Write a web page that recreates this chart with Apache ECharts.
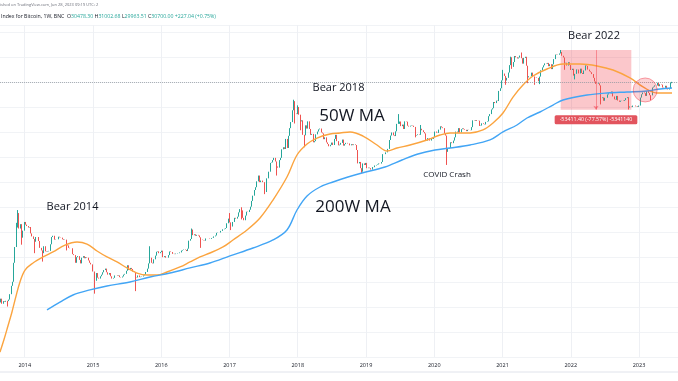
<!DOCTYPE html>
<html><head><meta charset="utf-8">
<script src="https://cdn.jsdelivr.net/npm/echarts/dist/echarts.min.js"></script>
<style>html,body{margin:0;padding:0;background:#fff}#c{width:678px;height:381px}</style>
</head><body><div id="c"></div>
<script>
// ---------- data ----------
const startWeek = '2013-08-19';
const firstOpen = 108;
const weeklyClose = [
// 2013 (from Aug 19)
122,134,118,126,124,127,126,131,150,185,205,330,490,800,960,780,870,620,740,920,
// 2014
860,830,800,810,690,640,600,560,630,630,570,480,450,420,500,440,435,440,445,525,630,650,590,595,595,635,
625,620,595,585,590,520,510,480,475,475,410,400,330,380,390,355,325,375,390,370,380,375,350,330,317,265,
// 2015
265,210,255,227,222,235,245,260,275,285,260,245,255,235,222,226,240,240,237,240,230,228,234,245,250,270,
310,275,290,282,265,262,230,228,240,230,232,234,240,246,262,285,325,375,330,325,360,395,435,440,420,432,
// 2016
447,380,390,375,375,400,438,432,413,414,410,416,420,420,428,448,455,460,455,443,470,575,600,760,660,675,
650,665,655,625,590,585,580,575,608,608,608,602,615,617,640,655,700,705,705,735,735,765,775,790,890,1000,
// 2017
910,820,920,920,1020,1000,1050,1170,1270,1230,1020,960,1080,1190,1180,1250,1350,1560,1780,2050,2200,2550,2950,2500,2600,2500,
2500,1950,2750,2750,3250,4050,4100,4350,4600,4200,3700,3600,4350,4600,5700,6000,5750,7400,5900,8000,9700,11300,15200,19100,14000,13800,
// 2018
16500,13600,11500,11800,8200,8100,10400,9600,11500,9500,8200,8400,6800,7000,8300,8900,9400,9600,8700,8500,7350,7700,6780,6500,6150,6380,
6750,6350,7400,8200,7000,6300,6400,6700,7280,6250,6500,6700,6600,6600,6300,6480,6330,6450,6350,5600,4000,4150,3550,3250,4000,3850,4050,
// 2019
3550,3600,3550,3430,3650,3640,3800,3850,3900,4000,3980,4150,5050,5050,5280,5280,5760,7200,8050,8700,8100,7950,8950,10800,10800,11450,
10200,10600,9500,11500,11400,10300,10100,10300,10400,10300,10000,8050,8150,8300,8200,9550,9200,8800,8500,7100,7550,7500,7100,7500,7400,7750,
// 2020
8900,8650,8600,9350,10150,9900,9700,8550,8050,5350,5820,5900,6800,6650,7100,7700,8900,8700,9700,8700,9450,9650,9450,9300,9000,9300,
9250,9200,9950,11800,11700,11900,11650,11700,10250,10350,10950,10750,10650,11350,11500,13100,13800,15500,16000,18700,18200,19350,19150,24700,26400,32200,
// 2021
38200,36000,32100,34300,39200,47200,57500,45200,51000,59300,57500,55800,57100,60000,56200,49000,56600,58200,46500,34700,35700,35800,39100,35500,34700,34600,
34200,31500,35400,41500,44600,47000,49300,48800,49900,46000,48300,42700,48200,54900,61500,60900,61300,63300,65500,59700,57200,49400,50100,46700,50800,47300,
// 2022
41800,43100,36300,37900,42400,42200,38300,43200,38800,37800,41300,46900,46400,42200,40400,39500,37700,34300,31300,29500,29400,29900,28400,20600,21000,19300,
20800,20800,22600,23300,23200,24300,21500,20000,19800,21800,19400,18800,19300,19400,19200,19600,20600,21100,16300,16700,16450,17100,17100,16750,16850,16550,
// 2023
17100,20900,22700,23750,23300,21800,24600,23500,22200,22100,26900,27500,28400,28300,30300,27800,29200,28900,26900,26700,28100,25850,25550,26300,30478.30,30700.00
];
// weeks whose wicks reach beyond the body
const wickWeeks = ['2013-09-30','2013-11-18','2013-11-25','2013-12-02','2013-12-16','2014-02-24','2014-04-07','2014-08-11',
 '2015-01-12','2015-08-17','2015-11-02','2016-06-13','2016-08-01','2017-01-02','2017-01-09','2017-03-06','2017-07-10','2017-09-11',
 '2017-12-11','2017-12-18','2018-01-01','2018-01-15','2018-02-05','2018-12-10','2019-06-24','2019-09-23','2019-10-21','2020-03-09',
 '2021-01-04','2021-01-18','2021-02-15','2021-02-22','2021-04-12','2021-05-17','2021-06-21','2021-07-19','2021-11-08','2021-11-29',
 '2022-01-24','2022-06-13','2022-11-07','2023-03-06','2023-06-26'];
const wickLow  = [110,null,null,null,520,420,340,450, 152,162,null,null,480,null,750,980,1850,2950, null,10900,null,9200,6000,3150,null,7700,null,3850,
 null,28800,null,43000,null,30000,28800,29300,null,42000, 33000,17600,15480,19600,29963.51];
const wickHigh = [null,900,1240,1150,null,null,null,null, null,null,500,780,null,1150,null,1330,null,null, 19800,null,17200,null,null,null,13800,null,10500,null,
 41900,null,58300,null,64800,null,null,null,69000,null, null,null,null,null,31002.68];

const yearTicks = [2014,2015,2016,2017,2018,2019,2020,2021,2022,2023];

const ma50Time = [2013.637,2013.696,2013.755,2013.813,2013.872,2013.930,2014.004,2014.121,2014.267,2014.414,2014.590,2014.766,2014.912,
 2015.059,2015.205,2015.352,2015.498,2015.645,2015.791,2015.938,2016.084,2016.275,2016.421,2016.568,2016.714,2016.905,2017.051,2017.256,
 2017.447,2017.637,2017.842,2017.989,2018.136,2018.282,2018.473,2018.619,2018.766,2018.956,2019.161,2019.308,2019.454,2019.645,2019.894,
 2020.085,2020.231,2020.524,2020.714,2020.861,2021.007,2021.154,2021.300,2021.447,2021.652,2021.886,2022.136,2022.385,2022.619,2022.868,
 2023.059,2023.264,2023.484];
const ma50Value = [35,48,68,96,143,204,275,328,382,433,515,556,528,444,382,337,290,255,243,243,262,297,337,382,422,491,585,752,1016,1596,
 2845,4943,6516,7568,8375,8590,8810,7960,6353,5470,5890,6353,7210,8166,8590,8590,9268,11040,14190,21180,28650,35930,42850,48530,48530,
 46240,41780,34200,27290,23440,23440];

const ma200Time = [2014.326,2014.516,2014.707,2014.956,2015.205,2015.542,2015.835,2016.128,2016.421,2016.714,2017.007,2017.344,2017.637,
 2017.842,2017.989,2018.136,2018.326,2018.517,2018.736,2018.941,2019.278,2019.527,2019.762,2020.011,2020.231,2020.524,2020.817,2021.007,
 2021.212,2021.359,2021.549,2021.740,2021.886,2022.238,2022.531,2022.824,2023.117,2023.308,2023.484];
const ma200Value = [101,123,147,167,184,204,231,255,290,328,392,478,585,752,1242,1766,2213,2510,2845,3148,3656,4357,5070,5600,5890,6353,
 7210,8810,10500,12510,14550,17340,19680,22280,23440,24040,24660,25940,26600];

const bearStart = '2021-11-08', bearEnd = '2022-11-21', bearHigh = 68850, bearLow = 15440;
const bearLabel = '-53411.40 (-77.57%) -5341140';
const crossDate = '2023-02-03', crossPrice = 25300;
const lastPrice = 30700;

// ---------- helpers ----------
const DAY = 864e5;
function decYear(ms){ const d=new Date(ms); const y=d.getUTCFullYear(); const a=Date.UTC(y,0,1), b=Date.UTC(y+1,0,1); return y+(ms-a)/(b-a); }
function dateYear(s){ return decYear(Date.parse(s+'T00:00:00Z')); }

const wickMap = {};
wickWeeks.forEach((d,i)=>{ wickMap[d]=[wickLow[i], wickHigh[i]]; });
const t0 = Date.parse(startWeek+'T00:00:00Z');
let prev = firstOpen;
const candles = weeklyClose.map((c,i)=>{
  const ms = t0 + i*7*DAY;
  const key = new Date(ms).toISOString().slice(0,10);
  const o = prev; prev = c;
  let lo = Math.min(o,c), hi = Math.max(o,c);
  const w = wickMap[key];
  if (w){ if (w[0]!=null) lo = Math.min(lo,w[0]); if (w[1]!=null) hi = Math.max(hi,w[1]); }
  return [decYear(ms), o, c, lo, hi];
});
const ma50 = ma50Time.map((t,i)=>[t, ma50Value[i]]);
const ma200 = ma200Time.map((t,i)=>[t, ma200Value[i]]);

// layout mapping of the reference
const xMin = 2013.6374, xMax = 2023.5714;
const yMin = Math.pow(10,1.4911), yMax = Math.pow(10,5.1116);

const bs = dateYear(bearStart), be = dateYear(bearEnd), bm = (bs+be)/2;
const FONT = '"Open Sans", "DejaVu Sans", sans-serif';
const TXT = {fill:'#131722', fontFamily:FONT, align:'center', verticalAlign:'middle', fontWeight:500};

const chart = echarts.init(document.getElementById('c'), null, {renderer:'canvas'});
chart.setOption({
  animation:false,
  backgroundColor:'#ffffff',
  grid:{left:0, right:0, top:25, bottom:24},
  xAxis:{type:'value', min:xMin, max:xMax,
    axisLine:{show:false},
    axisTick:{show:false, customValues:yearTicks},
    axisLabel:{customValues:yearTicks, formatter:v=>String(Math.round(v)), fontSize:5.5, color:'#131722', margin:5, fontFamily:FONT},
    splitLine:{show:true, lineStyle:{color:'#eef0f4', width:1}}},
  yAxis:[
    {type:'log', logBase:10, min:yMin, max:yMax, position:'right',
     axisLine:{show:false}, axisTick:{show:false}, axisLabel:{show:false}, splitLine:{show:false}},
    {type:'value', min:0, max:332, interval:25, position:'left',
     axisLine:{show:false}, axisTick:{show:false}, axisLabel:{show:false},
     splitLine:{show:true, lineStyle:{color:'#f1f3f6', width:1}}}
  ],
  series:[
    {type:'candlestick', data:candles, yAxisIndex:0,
     dimensions:['t','open','close','low','high'], encode:{x:0, y:[1,2,3,4]},
     barWidth:1.3,
     itemStyle:{color:'#26a69a', color0:'#ef5350', borderColor:'#26a69a', borderColor0:'#ef5350', borderWidth:1},
     markArea:{silent:true, itemStyle:{color:'rgba(242,54,69,0.28)'},
       data:[[{coord:[bs,bearHigh]},{coord:[be,bearLow]}]]},
     markLine:{silent:true, symbol:['none','none'], label:{show:false},
       data:[
         {yAxis:lastPrice, lineStyle:{color:'#9aa0a8', type:'dotted', width:1, opacity:0.8}},
         [{coord:[bm,bearHigh], symbol:'none', lineStyle:{color:'rgba(242,54,69,0.55)', width:0.8, type:'solid'}},
          {coord:[bm,bearLow], symbol:'arrow', symbolSize:4}]
       ]},
     markPoint:{silent:true,
       data:[
         {coord:[dateYear(crossDate), crossPrice], symbol:'circle', symbolSize:24,
          itemStyle:{color:'rgba(242,54,69,0.22)', borderColor:'rgba(242,54,69,0.45)', borderWidth:1}, label:{show:false}},
         {coord:[bm,bearLow], symbol:'circle', symbolSize:1, itemStyle:{color:'rgba(0,0,0,0)'},
          label:{show:true, position:'bottom', distance:5, formatter:bearLabel, color:'#ffffff', fontSize:5.3,
                 backgroundColor:'#e2545e', padding:[2,5,2,5], borderRadius:1.5, fontFamily:FONT}}
       ]}
    },
    {type:'line', name:'50W MA', data:ma50, yAxisIndex:0, showSymbol:false, smooth:0.35,
     lineStyle:{color:'#fba43f', width:1.4}, z:3},
    {type:'line', name:'200W MA', data:ma200, yAxisIndex:0, showSymbol:false, smooth:0.35,
     lineStyle:{color:'#42a5f5', width:1.4}, z:3}
  ],
  graphic:[
    {type:'line', z:50, shape:{x1:0,y1:372,x2:678,y2:372}, style:{stroke:'#e0e3eb', lineWidth:1}, silent:true},
    {type:'text', z:50, left:0, top:3, style:{text:'ished on TradingView.com, Jun 28, 2023 09:19 UTC+2', fontSize:4, fill:'#6a6d78', fontFamily:FONT}},
    {type:'text', z:50, left:1, top:14, style:{
      text:'{n|Index for Bitcoin, 1W, BNC}  {l|O}{v|30478.30} {l|H}{v|31002.68} {l|L}{v|29963.51} {l|C}{v|30700.00} {v|+227.04 (+0.75%)}',
      fontSize:5.2, fontFamily:FONT,
      rich:{n:{fill:'#131722', fontSize:5.2, fontFamily:FONT}, l:{fill:'#131722', fontSize:5.2, fontFamily:FONT}, v:{fill:'#26a69a', fontSize:5.2, fontFamily:FONT}}}},
    {type:'text', z:50, x:72.5, y:207, style:Object.assign({text:'Bear 2014', fontSize:11}, TXT)},
    {type:'text', z:50, x:338.5, y:88, style:Object.assign({text:'Bear 2018', fontSize:11}, TXT)},
    {type:'text', z:50, x:352, y:116, style:Object.assign({text:'50W MA', fontSize:17}, TXT)},
    {type:'text', z:50, x:353, y:207, style:Object.assign({text:'200W MA', fontSize:17}, TXT)},
    {type:'text', z:50, x:447, y:175, style:Object.assign({text:'COVID Crash', fontSize:8}, TXT)},
    {type:'text', z:50, x:594, y:36, style:Object.assign({text:'Bear 2022', fontSize:11}, TXT)}
  ]
});
</script></body></html>
